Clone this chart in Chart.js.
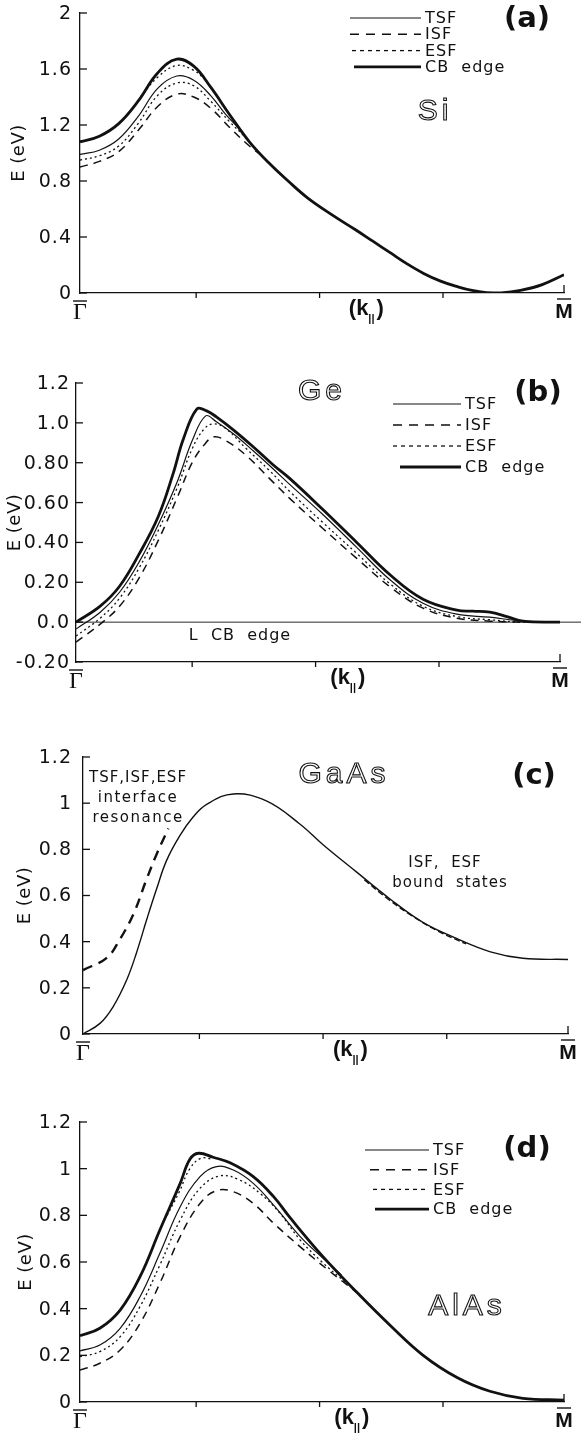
<!DOCTYPE html>
<html>
<head>
<meta charset="utf-8">
<script src="https://cdn.jsdelivr.net/npm/chart.js@4.4.1/dist/chart.umd.min.js"></script>
<style>
  body { margin: 0; background: #fff; width: 581px; height: 1439px; position: relative; overflow: hidden; }
  canvas { position: absolute; left: 0; }
</style>
</head>
<body>
<canvas id="panelA" width="581" height="330" style="top:0px"></canvas>
<canvas id="panelB" width="581" height="375" style="top:330px"></canvas>
<canvas id="panelC" width="581" height="360" style="top:705px"></canvas>
<canvas id="panelD" width="581" height="374" style="top:1065px"></canvas>
<script>
// k along Gamma-bar (0) .. M-bar (1)
const kTicks = [0.24, 0.495, 0.75];

// (a) Si
const yTicksA = [0, 0.4, 0.8, 1.2, 1.6, 2];
const yLabelsA = ['0', '0.4', '0.8', '1.2', '1.6', '2'];
const kA_cb = [0, 0.04, 0.08, 0.12, 0.16, 0.2, 0.235, 0.27, 0.31, 0.35, 0.39, 0.43, 0.47, 0.52, 0.57, 0.605, 0.64, 0.675, 0.71, 0.745, 0.78, 0.81, 0.84, 0.87, 0.91, 0.955, 1.0];
const eA_cb = [1.08, 1.12, 1.21, 1.37, 1.57, 1.67, 1.62, 1.47, 1.27, 1.08, 0.93, 0.80, 0.68, 0.56, 0.45, 0.37, 0.29, 0.21, 0.14, 0.085, 0.045, 0.018, 0.003, 0.0, 0.018, 0.06, 0.13];
const kA_tsf = [0, 0.04, 0.08, 0.12, 0.16, 0.2, 0.235, 0.27, 0.30, 0.33];
const eA_tsf = [0.99, 1.02, 1.10, 1.26, 1.46, 1.55, 1.52, 1.41, 1.28, 1.17];
const kA_isf = [0, 0.04, 0.08, 0.12, 0.16, 0.2, 0.235, 0.27, 0.31, 0.35, 0.38];
const eA_isf = [0.90, 0.94, 1.01, 1.16, 1.33, 1.42, 1.40, 1.32, 1.18, 1.05, 0.97];
const kA_esf = [0, 0.04, 0.08, 0.12, 0.16, 0.2, 0.235, 0.27, 0.31, 0.34];
const eA_esf = [0.95, 0.98, 1.05, 1.21, 1.41, 1.50, 1.48, 1.37, 1.22, 1.12];
const kA_esf2 = [0.125, 0.16, 0.2, 0.235, 0.26];
const eA_esf2 = [1.40, 1.54, 1.625, 1.59, 1.52];

// (b) Ge
const yTicksB = [-0.2, 0, 0.2, 0.4, 0.6, 0.8, 1.0, 1.2];
const yLabelsB = ['-0.20', '0.0', '0.20', '0.40', '0.60', '0.80', '1.0', '1.2'];
const kB_cb = [0, 0.05, 0.09, 0.13, 0.17, 0.2, 0.222, 0.25, 0.27, 0.29, 0.325, 0.366, 0.407, 0.442, 0.51, 0.58, 0.65, 0.717, 0.787, 0.82, 0.855, 0.89, 0.924, 1.0];
const eB_cb = [0.0, 0.08, 0.18, 0.34, 0.53, 0.74, 0.92, 1.07, 1.06, 1.03, 0.965, 0.88, 0.79, 0.72, 0.565, 0.40, 0.235, 0.115, 0.06, 0.055, 0.05, 0.028, 0.005, 0.0];
const kB_tsf = [0, 0.05, 0.09, 0.13, 0.17, 0.21, 0.24, 0.268, 0.29, 0.325, 0.366, 0.407, 0.442, 0.51, 0.58, 0.65, 0.717, 0.787, 0.855, 0.924, 1.0];
const eB_tsf = [-0.035, 0.05, 0.15, 0.30, 0.49, 0.71, 0.91, 1.035, 1.005, 0.945, 0.86, 0.77, 0.69, 0.54, 0.375, 0.21, 0.095, 0.04, 0.025, 0.005, 0.0];
const kB_esf = [0, 0.05, 0.09, 0.13, 0.17, 0.21, 0.24, 0.265, 0.285, 0.31, 0.35, 0.4, 0.442, 0.51, 0.58, 0.65, 0.717, 0.787, 0.855, 0.924, 1.0];
const eB_esf = [-0.07, 0.02, 0.12, 0.27, 0.46, 0.68, 0.87, 0.97, 0.995, 0.97, 0.875, 0.76, 0.655, 0.50, 0.345, 0.19, 0.08, 0.028, 0.012, 0.0, 0.0];
const kB_isf = [0, 0.05, 0.09, 0.13, 0.17, 0.21, 0.24, 0.265, 0.285, 0.31, 0.35, 0.4, 0.442, 0.51, 0.58, 0.65, 0.717, 0.787, 0.855, 0.924, 1.0];
const eB_isf = [-0.10, -0.01, 0.08, 0.22, 0.41, 0.63, 0.80, 0.89, 0.93, 0.91, 0.84, 0.72, 0.62, 0.47, 0.32, 0.175, 0.07, 0.02, 0.005, 0.0, 0.0];

// (c) GaAs
const yTicksC = [0, 0.2, 0.4, 0.6, 0.8, 1, 1.2];
const yLabelsC = ['0', '0.2', '0.4', '0.6', '0.8', '1', '1.2'];
const kC_band = [0, 0.035, 0.062, 0.09, 0.11, 0.132, 0.152, 0.172, 0.2, 0.227, 0.255, 0.31, 0.378, 0.447, 0.495, 0.565, 0.633, 0.70, 0.77, 0.84, 0.907, 1.0];
const eC_band = [0.0, 0.046, 0.118, 0.234, 0.35, 0.50, 0.63, 0.75, 0.86, 0.94, 0.995, 1.04, 1.01, 0.91, 0.82, 0.70, 0.585, 0.485, 0.414, 0.356, 0.328, 0.323];
const kC_res = [0, 0.049, 0.076, 0.104, 0.131, 0.152, 0.176];
const eC_res = [0.277, 0.33, 0.41, 0.52, 0.67, 0.78, 0.89];
const kC_bound = [0.58, 0.63, 0.68, 0.73, 0.79];
const eC_bound = [0.668, 0.583, 0.510, 0.448, 0.390];

// (d) AlAs
const yTicksD = [0, 0.2, 0.4, 0.6, 0.8, 1, 1.2];
const yLabelsD = ['0', '0.2', '0.4', '0.6', '0.8', '1', '1.2'];
const kD_cb = [0, 0.041, 0.083, 0.124, 0.165, 0.207, 0.227, 0.245, 0.275, 0.31, 0.358, 0.4, 0.434, 0.502, 0.572, 0.64, 0.709, 0.779, 0.847, 0.915, 1.0];
const eD_cb = [0.284, 0.316, 0.394, 0.537, 0.737, 0.937, 1.040, 1.066, 1.049, 1.025, 0.966, 0.88, 0.79, 0.623, 0.470, 0.330, 0.200, 0.105, 0.046, 0.016, 0.008];
const kD_tsf = [0, 0.041, 0.083, 0.124, 0.165, 0.207, 0.248, 0.282, 0.317, 0.358, 0.4, 0.455, 0.50, 0.54];
const eD_tsf = [0.219, 0.244, 0.316, 0.451, 0.637, 0.837, 0.966, 1.009, 0.994, 0.937, 0.844, 0.709, 0.62, 0.545];
const kD_isf = [0, 0.041, 0.083, 0.124, 0.165, 0.207, 0.248, 0.282, 0.317, 0.358, 0.4, 0.455, 0.51, 0.572];
const eD_isf = [0.137, 0.166, 0.223, 0.337, 0.509, 0.709, 0.851, 0.906, 0.901, 0.851, 0.766, 0.665, 0.57, 0.47];
const kD_esf = [0, 0.041, 0.083, 0.124, 0.165, 0.207, 0.248, 0.289, 0.33, 0.372, 0.413, 0.455, 0.50, 0.55];
const eD_esf = [0.194, 0.216, 0.28, 0.409, 0.587, 0.78, 0.916, 0.969, 0.951, 0.894, 0.809, 0.694, 0.60, 0.51];
const kD_esf2 = [0.18, 0.205, 0.227, 0.25, 0.27];
const eD_esf2 = [0.80, 0.90, 1.00, 1.045, 1.042];

function pts(ks, es) {
    return ks.map((k, i) => ({ x: k, y: es[i] }));
}

// line styles
const INK = '#111';
function tsf(d, row) { return { label: 'TSF', data: d, borderWidth: 1.2, borderDash: [], legendRow: row }; }
function isf(d, row) { return { label: 'ISF', data: d, borderWidth: 1.5, borderDash: [8, 6], legendDash: [9, 7], legendRow: row }; }
function esf(d, row) { return { label: 'ESF', data: d, borderWidth: 1.3, borderDash: [2, 3], legendDash: [4, 4], legendRow: row }; }
function cb(d, row) { return { label: 'CB  edge', data: d, borderWidth: 2.8, borderDash: [], legendRow: row }; }

function line(ctx, x1, y1, x2, y2) {
    ctx.beginPath();
    ctx.moveTo(x1, y1);
    ctx.lineTo(x2, y2);
    ctx.stroke();
}

const panelDeco = {
    id: 'panelDeco',
    afterDraw(chart, args, o) {
        const ctx = chart.ctx;
        const a = chart.chartArea;
        const xs = chart.scales.x, ys = chart.scales.y;
        const top = o.top;
        ctx.save();
        ctx.strokeStyle = INK;
        ctx.fillStyle = INK;
        ctx.lineWidth = 1.3;

        if (o.zeroLine) {
            const y0 = ys.getPixelForValue(0);
            ctx.lineWidth = 0.9;
            line(ctx, a.left, y0, chart.width, y0);
            ctx.lineWidth = 1.3;
        }

        // y ticks point inward
        ctx.font = '19px "DejaVu Sans"';
        ctx.letterSpacing = '1px';
        ctx.textAlign = 'right';
        ctx.textBaseline = 'middle';
        o.yTicks.forEach((v, i) => {
            const py = ys.getPixelForValue(v);
            line(ctx, a.left, py, a.left + 7, py);
            ctx.fillText(o.yLabels[i], a.left - o.labelGap, py + 1);
        });

        // k ticks
        kTicks.forEach(k => {
            const px = xs.getPixelForValue(k);
            line(ctx, px, a.bottom, px, a.bottom + 5);
        });
        const pm = xs.getPixelForValue(1);
        line(ctx, pm, a.bottom, pm, a.bottom - 8);

        // axis title
        ctx.save();
        ctx.translate(o.titleX, (a.top + a.bottom) / 2);
        ctx.rotate(-Math.PI / 2);
        ctx.textAlign = 'center';
        ctx.font = '18px "DejaVu Sans"';
        ctx.letterSpacing = '0.5px';
        ctx.fillText('E (eV)', 0, 0);
        ctx.restore();

        // Gamma-bar, (k||), M-bar
        ctx.letterSpacing = '0px';
        ctx.textAlign = 'center';
        ctx.textBaseline = 'alphabetic';
        const pg = xs.getPixelForValue(0);
        ctx.font = '24px "Liberation Serif"';
        ctx.fillText('\u0393', pg, a.bottom + 26);
        ctx.lineWidth = 1.4;
        line(ctx, pg - 7, a.bottom + 8, pg + 7, a.bottom + 8);
        ctx.font = 'bold 21px "Liberation Sans"';
        ctx.fillText('M', pm, a.bottom + 25);
        line(ctx, pm - 7, a.bottom + 6, pm + 7, a.bottom + 6);
        const pk = xs.getPixelForValue(o.kLabelAt);
        ctx.font = 'bold 22px "Liberation Sans"';
        ctx.textAlign = 'right';
        ctx.fillText('(k', pk - 2, a.bottom + 22);
        ctx.textAlign = 'left';
        ctx.fillText(')', pk + 6, a.bottom + 22);
        ctx.textAlign = 'center';
        ctx.font = 'bold 11px "Liberation Sans"';
        ctx.fillText('||', pk + 1, a.bottom + 29);

        // legend from datasets
        if (o.legend) {
            const L = o.legend;
            ctx.font = '16px "DejaVu Sans"';
            ctx.letterSpacing = '1px';
            ctx.textAlign = 'left';
            ctx.textBaseline = 'middle';
            chart.data.datasets.forEach(ds => {
                if (ds.legendRow === undefined) return;
                const y = L.y - top + ds.legendRow * L.dy;
                const x1 = L.x1 + (L.indent[ds.legendRow] || 0);
                ctx.lineWidth = ds.borderWidth;
                ctx.setLineDash(ds.legendDash || ds.borderDash);
                line(ctx, x1, y, L.x2, y);
                ctx.setLineDash([]);
                ctx.fillText(ds.label, L.x2 + 4, y + 1);
            });
        }

        // free texts
        (o.texts || []).forEach(t => {
            ctx.font = t.font;
            ctx.letterSpacing = t.spacing || '0px';
            ctx.textAlign = 'center';
            ctx.textBaseline = 'middle';
            if (t.outline) {
                ctx.lineWidth = 1.1;
                ctx.strokeText(t.text, t.x, t.y - top);
            } else {
                ctx.fillText(t.text, t.x, t.y - top);
            }
        });
        ctx.restore();
    }
};

function makePanel(id, cfg) {
    return new Chart(document.getElementById(id), {
        type: 'line',
        data: { datasets: cfg.datasets.map(d => Object.assign({
            borderColor: INK, pointRadius: 0, fill: false,
            tension: 0.4, borderCapStyle: 'butt'
        }, d)) },
        options: {
            responsive: false,
            animation: false,
            devicePixelRatio: 1,
            layout: { padding: { top: cfg.padTop, right: cfg.padRight, left: 0, bottom: 0 } },
            plugins: { legend: { display: false }, tooltip: { enabled: false }, panelDeco: cfg.deco },
            scales: {
                x: {
                    type: 'linear', min: 0, max: 1,
                    grid: { display: false },
                    ticks: { display: false },
                    border: { display: true, color: INK, width: 1.3 },
                    afterFit: s => { s.height = cfg.xHeight; }
                },
                y: {
                    type: 'linear', min: cfg.yMin, max: cfg.yMax,
                    grid: { display: false },
                    ticks: { display: false },
                    border: { display: true, color: INK, width: 1.3 },
                    afterFit: s => { s.width = cfg.axisLeft; }
                }
            }
        },
        plugins: [panelDeco]
    });
}

const textFont = '15px "DejaVu Sans"';
const tagFont = 'bold 29px "DejaVu Sans"';
const nameFont = '30px "Liberation Sans"';

makePanel('panelA', {
    padTop: 13, padRight: 17, xHeight: 37, axisLeft: 80, yMin: 0, yMax: 2,
    datasets: [
        cb(pts(kA_cb, eA_cb), 3),
        tsf(pts(kA_tsf, eA_tsf), 0),
        esf(pts(kA_esf, eA_esf), 2),
        Object.assign(esf(pts(kA_esf2, eA_esf2)), { label: '' }),
        isf(pts(kA_isf, eA_isf), 1)
    ],
    deco: {
        top: 0, yTicks: yTicksA, yLabels: yLabelsA, labelGap: 8, titleX: 19, kLabelAt: 0.6,
        legend: { x1: 350, x2: 421, y: 18, dy: 16.3, indent: [0, 0, 2, 4] },
        texts: [
            { text: '(a)', x: 527, y: 19, font: tagFont },
            { text: 'Si', x: 435, y: 112, font: nameFont, outline: true, spacing: '4px' }
        ]
    }
});

makePanel('panelB', {
    padTop: 53, padRight: 21, xHeight: 43, axisLeft: 76, yMin: -0.2, yMax: 1.2,
    datasets: [
        cb(pts(kB_cb, eB_cb), 3),
        tsf(pts(kB_tsf, eB_tsf), 0),
        esf(pts(kB_esf, eB_esf), 2),
        isf(pts(kB_isf, eB_isf), 1)
    ],
    deco: {
        top: 330, yTicks: yTicksB, yLabels: yLabelsB, labelGap: 6, titleX: 15, kLabelAt: 0.57, zeroLine: true,
        legend: { x1: 393, x2: 461, y: 404, dy: 21, indent: [0, 0, 0, 7] },
        texts: [
            { text: '(b)', x: 538, y: 393, font: tagFont },
            { text: 'Ge', x: 322, y: 392, font: nameFont, outline: true, spacing: '4px' },
            { text: 'L  CB  edge', x: 240, y: 636, font: '16px "DejaVu Sans"', spacing: '1px' }
        ]
    }
});

makePanel('panelC', {
    padTop: 52, padRight: 13, xHeight: 31, axisLeft: 83, yMin: 0, yMax: 1.2,
    datasets: [
        { label: 'band', data: pts(kC_band, eC_band), borderWidth: 1.4, borderDash: [] },
        { label: 'resonance', data: pts(kC_res, eC_res), borderWidth: 2.4, borderDash: [10, 7] },
        { label: 'bound', data: pts(kC_bound, eC_bound), borderWidth: 1.4, borderDash: [6, 3] }
    ],
    deco: {
        top: 705, yTicks: yTicksC, yLabels: yLabelsC, labelGap: 11, titleX: 25, kLabelAt: 0.56,
        texts: [
            { text: '(c)', x: 534, y: 776, font: tagFont },
            { text: 'GaAs', x: 344, y: 775, font: nameFont, outline: true, spacing: '4px' },
            { text: 'TSF,ISF,ESF', x: 138, y: 778, font: textFont, spacing: '1px' },
            { text: 'interface', x: 138, y: 798, font: textFont, spacing: '1.5px' },
            { text: 'resonance', x: 138, y: 818, font: textFont, spacing: '1.5px' },
            { text: 'ISF,  ESF', x: 445, y: 863, font: textFont, spacing: '1px' },
            { text: 'bound  states', x: 450, y: 883, font: textFont, spacing: '1px' }
        ]
    }
});

makePanel('panelD', {
    padTop: 57, padRight: 17, xHeight: 37, axisLeft: 80, yMin: 0, yMax: 1.2,
    datasets: [
        cb(pts(kD_cb, eD_cb), 3),
        tsf(pts(kD_tsf, eD_tsf), 0),
        esf(pts(kD_esf, eD_esf), 2),
        Object.assign(esf(pts(kD_esf2, eD_esf2)), { label: '' }),
        isf(pts(kD_isf, eD_isf), 1)
    ],
    deco: {
        top: 1065, yTicks: yTicksD, yLabels: yLabelsD, labelGap: 8, titleX: 26, kLabelAt: 0.57,
        legend: { x1: 365, x2: 429, y: 1150, dy: 19.7, indent: [0, 5, 8, 10] },
        texts: [
            { text: '(d)', x: 527, y: 1149, font: tagFont },
            { text: 'AlAs', x: 467, y: 1307, font: nameFont, outline: true, spacing: '4px' }
        ]
    }
});
</script>
</body>
</html>
